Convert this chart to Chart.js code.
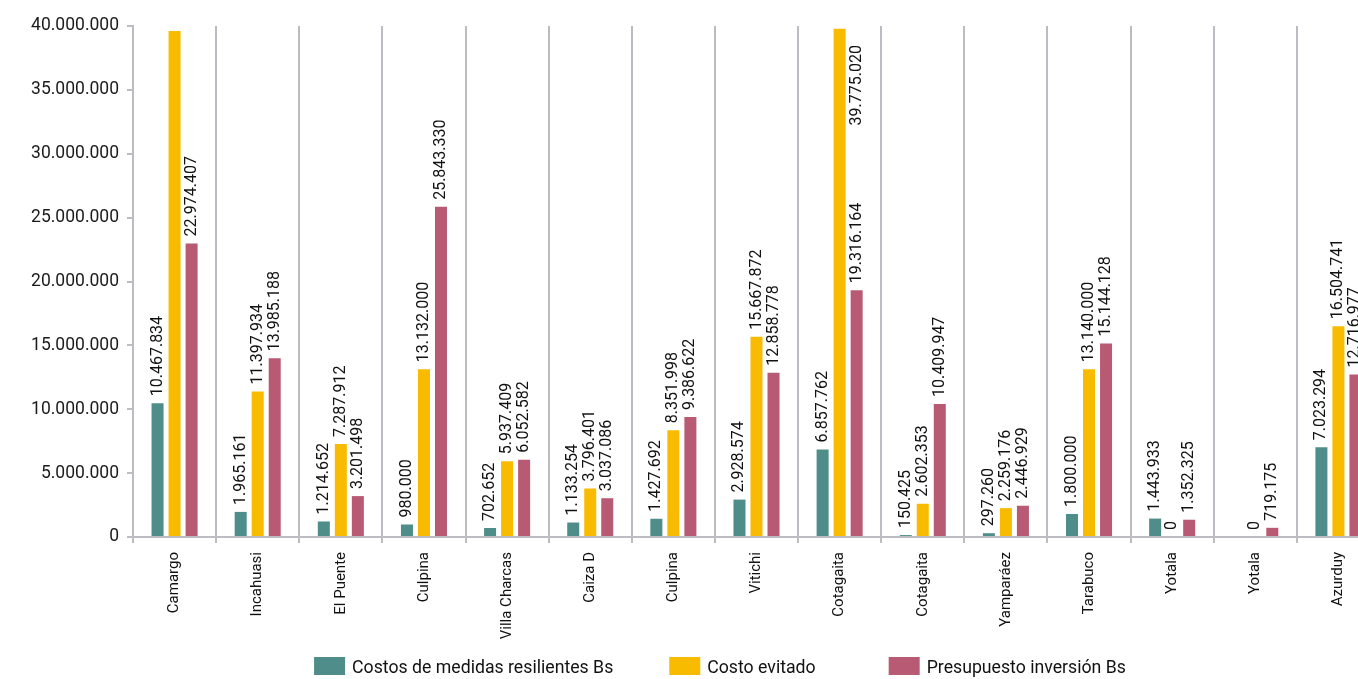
<!DOCTYPE html>
<html>
<head>
<meta charset="utf-8">
<script src="https://cdn.jsdelivr.net/npm/chart.js@4/dist/chart.umd.min.js"></script>
<style>
html,body{margin:0;padding:0;background:#fff;overflow:hidden;width:1358px;height:679px;}
#wrap{position:absolute;left:0;top:0;width:1390px;height:679px;}
</style>
</head>
<body>
<div id="wrap"><canvas id="c" width="1390" height="679"></canvas></div>
<script>
const categories = ["Camargo","Incahuasi","El Puente","Culpina","Villa Charcas","Caiza D","Culpina","Vitichi","Cotagaita","Cotagaita","Yamparáez","Tarabuco","Yotala","Yotala","Azurduy"];
const costosResilientes = [10467834,1965161,1214652,980000,702652,1133254,1427692,2928574,6857762,150425,297260,1800000,1443933,null,7023294];
const costoEvitado = [39600000,11397934,7287912,13132000,5937409,3796401,8351998,15667872,39775020,2602353,2259176,13140000,0,0,16504741];
const presupuestoInversion = [22974407,13985188,3201498,25843330,6052582,3037086,9386622,12858778,19316164,10409947,2446929,15144128,1352325,719175,12716977];
const seriesNames = ["Costos de medidas resilientes Bs","Costo evitado","Presupuesto inversión Bs"];
const yTicks = [0,5000000,10000000,15000000,20000000,25000000,30000000,35000000,40000000];
const hiddenLabels = [[1,0]]; // value label not shown in the reference

const colors = ["#4e8d89","#f8bb00","#b85a73"];
const FONT = "Roboto, 'Liberation Sans', sans-serif";

function fmt(v){
  return String(Math.round(v)).replace(/\B(?=(\d{3})+(?!\d))/g, ".");
}

const labelPlugin = {
  id: 'barLabels',
  afterDatasetsDraw(chart){
    const ctx = chart.ctx;
    const area = chart.chartArea;
    ctx.save();
    ctx.font = "16px " + FONT;
    ctx.fillStyle = "#111";
    ctx.textAlign = "left";
    ctx.textBaseline = "middle";
    chart.data.datasets.forEach((ds, di) => {
      const meta = chart.getDatasetMeta(di);
      meta.data.forEach((bar, i) => {
        const v = ds.data[i];
        if (v === null || v === undefined) return;
        if (hiddenLabels.some(h => h[0] === di && h[1] === i)) return;
        const txt = fmt(v);
        const w = ctx.measureText(txt).width;
        let x = bar.x;
        let y = bar.y - 7;
        if (y - w < area.top) {
          const next = chart.getDatasetMeta(Math.min(di+1, chart.data.datasets.length-1)).data[i];
          x = next.x;
          y = area.top + 19 + w;
        }
        ctx.save();
        ctx.translate(x, y);
        ctx.rotate(-Math.PI/2);
        ctx.fillText(txt, 0, 0);
        ctx.restore();
      });
    });
    ctx.restore();
  }
};

const legendPlugin = {
  id: 'customLegend',
  afterDraw(chart){
    const ctx = chart.ctx;
    ctx.save();
    ctx.font = "17.7px " + FONT;
    ctx.textBaseline = "alphabetic";
    ctx.textAlign = "left";
    const boxW = 31, boxH = 18, gapText = 7, gaps = [56, 73];
    const widths = seriesNames.map(n => boxW + gapText + ctx.measureText(n).width);
    const total = widths.reduce((a,b)=>a+b,0) + gaps.reduce((a,b)=>a+b,0);
    let x = 720 - total/2;
    const top = 657;
    seriesNames.forEach((n, k) => {
      ctx.fillStyle = colors[k];
      ctx.fillRect(x, top, boxW, boxH);
      ctx.fillStyle = "#111";
      ctx.fillText(n, x + boxW + gapText, top + 16);
      x += widths[k] + (gaps[k] || 0);
    });
    ctx.restore();
  }
};

const gridColor = "#bcbcc2";

new Chart(document.getElementById('c'), {
  type: 'bar',
  data: {
    labels: categories,
    datasets: [
      {label: seriesNames[0], data: costosResilientes, backgroundColor: colors[0]},
      {label: seriesNames[1], data: costoEvitado, backgroundColor: colors[1]},
      {label: seriesNames[2], data: presupuestoInversion, backgroundColor: colors[2]}
    ]
  },
  options: {
    responsive: false,
    animation: false,
    devicePixelRatio: 1,
    categoryPercentage: 0.614,
    barPercentage: 0.706,
    layout: {padding: {left: 0, right: 10, top: 26, bottom: 0}},
    plugins: {
      legend: {display: false},
      tooltip: {enabled: false}
    },
    scales: {
      x: {
        grid: {display: true, drawOnChartArea: true, offset: true, color: gridColor, lineWidth: 2, tickLength: 6},
        border: {display: true, color: gridColor, width: 2},
        ticks: {
          autoSkip: false, maxRotation: 90, minRotation: 90, padding: 9,
          color: "#111", font: {family: FONT, size: 15}
        },
        afterFit(scale){ scale.height = 679 - 537; }
      },
      y: {
        min: 0, max: 40000000,
        afterBuildTicks(scale){ scale.ticks = yTicks.map(v => ({value: v})); },
        grid: {display: true, drawOnChartArea: false, color: gridColor, lineWidth: 2, tickLength: 6},
        border: {display: true, color: gridColor, width: 2},
        ticks: {
          padding: 8, color: "#1a1a1a", font: {family: FONT, size: 17.5},
          callback: v => fmt(v)
        },
        afterFit(scale){ scale.width = 133; }
      }
    }
  },
  plugins: [labelPlugin, legendPlugin]
});
</script>
</body>
</html>
